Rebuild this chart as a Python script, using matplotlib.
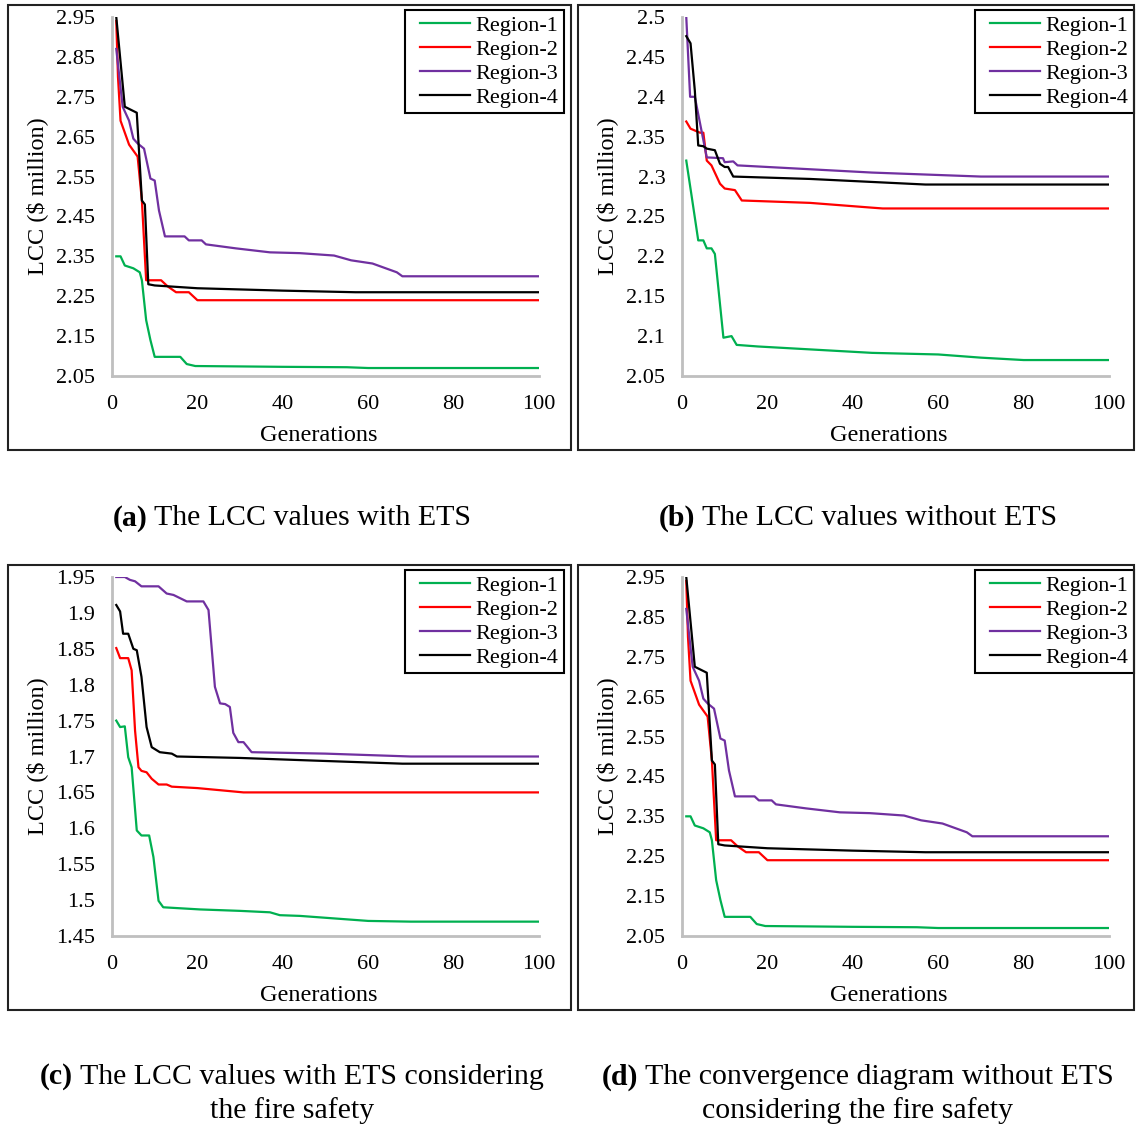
import matplotlib
matplotlib.use("Agg")
import matplotlib.pyplot as plt
from matplotlib.patches import Rectangle
from matplotlib.ticker import FuncFormatter
from matplotlib.legend_handler import HandlerLine2D
from matplotlib.lines import Line2D
import numpy as np

plt.rcParams['font.family'] = ['Liberation Serif', 'DejaVu Serif']

regions = ["Region-1", "Region-2", "Region-3", "Region-4"]
colors = ["#00B050", "#FF0000", "#7030A0", "#000000"]

# ---- Panel (a): with ETS ----
a_r1_gen = [1, 2, 3, 5, 6.5, 7, 8, 9, 10, 16, 17.5, 19.5, 30, 40, 55, 60, 100]
a_r1_val = [2.35, 2.35, 2.327, 2.32, 2.31, 2.29, 2.19, 2.14, 2.098, 2.098, 2.08, 2.075, 2.074, 2.073, 2.072, 2.07, 2.07]
a_r2_gen = [1, 1.4, 2, 4, 6, 7, 8, 11.5, 13, 15, 18, 20, 100]
a_r2_val = [2.94, 2.80, 2.69, 2.63, 2.60, 2.49, 2.29, 2.29, 2.275, 2.26, 2.26, 2.24, 2.24]
a_r3_gen = [1, 2.5, 4, 5, 6, 7.5, 9, 10, 11, 12.4, 17, 18, 21, 22, 29, 37, 44, 52, 56, 61, 66.7, 68, 100]
a_r3_val = [2.87, 2.725, 2.69, 2.645, 2.633, 2.62, 2.545, 2.54, 2.465, 2.40, 2.40, 2.39, 2.39, 2.38, 2.37, 2.36, 2.358, 2.352, 2.34, 2.332, 2.31, 2.30, 2.30]
a_r4_gen = [1, 3, 5.8, 7, 7.7, 8.5, 10, 20, 40, 57, 100]
a_r4_val = [2.95, 2.725, 2.71, 2.49, 2.48, 2.28, 2.277, 2.27, 2.264, 2.26, 2.26]

# ---- Panel (b): without ETS ----
b_r1_gen = [1, 2.3, 3.8, 5, 5.8, 6.9, 7.7, 9.7, 11.6, 12.8, 17.8, 44.5, 60, 70, 80, 100]
b_r1_val = [2.32, 2.274, 2.22, 2.22, 2.21, 2.21, 2.203, 2.098, 2.100, 2.089, 2.087, 2.079, 2.077, 2.073, 2.07, 2.07]
b_r2_gen = [1, 2, 4.2, 5, 5.8, 6.9, 8.9, 10, 12.4, 14, 30, 44.5, 47, 100]
b_r2_val = [2.369, 2.36, 2.355, 2.355, 2.32, 2.314, 2.291, 2.285, 2.283, 2.27, 2.267, 2.261, 2.26, 2.26]
b_r3_gen = [1, 1.9, 3, 5.8, 9.6, 10, 12, 13, 44.5, 70, 100]
b_r3_val = [2.50, 2.40, 2.40, 2.324, 2.323, 2.318, 2.319, 2.314, 2.305, 2.30, 2.30]
b_r4_gen = [1, 2, 3, 3.8, 5, 5.8, 7.7, 8.9, 10, 10.8, 12, 30, 57, 100]
b_r4_val = [2.476, 2.467, 2.408, 2.339, 2.338, 2.335, 2.333, 2.316, 2.312, 2.312, 2.30, 2.297, 2.29, 2.29]

# ---- Panel (c): with ETS considering fire safety ----
c_r1_gen = [1, 1.9, 3, 3.8, 4.6, 5.8, 6.9, 8.7, 9.7, 10.9, 12, 20.6, 30, 37, 39.3, 44, 60, 70, 100]
c_r1_val = [1.75, 1.741, 1.742, 1.699, 1.685, 1.597, 1.59, 1.59, 1.56, 1.499, 1.49, 1.487, 1.485, 1.483, 1.479, 1.478, 1.471, 1.47, 1.47]
c_r2_gen = [1, 1.9, 3.8, 4.6, 5.4, 6.2, 6.9, 8.1, 9.3, 10.9, 12.8, 14, 20, 30.8, 100]
c_r2_val = [1.851, 1.837, 1.837, 1.82, 1.736, 1.685, 1.68, 1.678, 1.669, 1.661, 1.661, 1.658, 1.656, 1.65, 1.65]
c_r3_gen = [1, 3, 4.2, 5.4, 6.9, 10.9, 12.8, 14.4, 17.5, 21.4, 22.6, 24.1, 25.3, 26.5, 27.6, 28.4, 29.6, 30.8, 32.7, 50, 70, 100]
c_r3_val = [1.95, 1.95, 1.946, 1.944, 1.937, 1.937, 1.927, 1.925, 1.916, 1.916, 1.904, 1.797, 1.774, 1.773, 1.769, 1.733, 1.72, 1.72, 1.706, 1.704, 1.70, 1.70]
c_r4_gen = [1, 1.9, 2.6, 3.8, 5, 5.8, 6.9, 8.1, 9.3, 11.2, 14, 15.2, 30, 44, 68, 100]
c_r4_val = [1.911, 1.902, 1.871, 1.871, 1.85, 1.848, 1.811, 1.741, 1.713, 1.706, 1.704, 1.70, 1.698, 1.695, 1.69, 1.69]

# ---- Panel (d): convergence without ETS considering fire safety ----
d_r1_gen, d_r1_val = list(a_r1_gen), list(a_r1_val)
d_r2_gen, d_r2_val = list(a_r2_gen), list(a_r2_val)
d_r3_gen, d_r3_val = list(a_r3_gen), list(a_r3_val)
d_r4_gen, d_r4_val = list(a_r4_gen), list(a_r4_val)

y_ranges = {"a": (2.05, 2.95, 0.1), "b": (2.05, 2.5, 0.05), "c": (1.45, 1.95, 0.05), "d": (2.05, 2.95, 0.1)}
captions = {
    "a": ["(a)", " The LCC values with ETS"],
    "b": ["(b)", " The LCC values without ETS"],
    "c": ["(c)", " The LCC values with ETS considering", "the fire safety"],
    "d": ["(d)", " The convergence diagram without ETS", "considering the fire safety"],
}

W, H = 1136, 1125
fig = plt.figure(figsize=(W / 100, H / 100), dpi=100)

def fx(px):
    return px / W

def fy(py):
    return 1 - py / H

panels = {
    "a": ([a_r1_gen, a_r2_gen, a_r3_gen, a_r4_gen], [a_r1_val, a_r2_val, a_r3_val, a_r4_val], 112, 17, 376, (8, 5, 571, 450), 292, 518),
    "b": ([b_r1_gen, b_r2_gen, b_r3_gen, b_r4_gen], [b_r1_val, b_r2_val, b_r3_val, b_r4_val], 682, 17, 376, (578, 5, 1134, 450), 858, 518),
    "c": ([c_r1_gen, c_r2_gen, c_r3_gen, c_r4_gen], [c_r1_val, c_r2_val, c_r3_val, c_r4_val], 112, 577, 936, (8, 565, 571, 1010), 292, 1077),
    "d": ([d_r1_gen, d_r2_gen, d_r3_gen, d_r4_gen], [d_r1_val, d_r2_val, d_r3_val, d_r4_val], 682, 577, 936, (578, 565, 1134, 1010), 858, 1077),
}

fmt = FuncFormatter(lambda v, p: ("%.2f" % v).rstrip("0").rstrip("."))
CAP_FS = 21.5

for key, (gens, vals, left, top, bottom, box, cx, cy) in panels.items():
    ax = fig.add_axes([fx(left), fy(bottom), fx(427), (bottom - top) / H])
    for g, v, c, lab in zip(gens, vals, colors, regions):
        ax.plot(g, v, color=c, lw=1.6, label=lab, solid_joinstyle="round")
    lo, hi, st = y_ranges[key]
    ax.set_ylim(lo, hi)
    ax.set_xlim(0, 100)
    ax.set_yticks(np.round(np.arange(lo, hi + st / 2, st), 2))
    ax.set_xticks([0, 20, 40, 60, 80, 100])
    ax.yaxis.set_major_formatter(fmt)
    ax.tick_params(length=0, labelsize=16)
    ax.tick_params(axis="x", pad=13.5)
    ax.tick_params(axis="y", pad=12)
    for s in ["top", "right"]:
        ax.spines[s].set_visible(False)
    for s in ["left", "bottom"]:
        ax.spines[s].set_color("#BFBFBF")
        ax.spines[s].set_linewidth(2.0)
    ax.set_xlabel("Generations", fontsize=17.5, labelpad=8)
    ax.xaxis.label.set_x(0.484)
    ax.set_ylabel("LCC ($ million)", fontsize=17.5, labelpad=6)
    leg = ax.legend(loc="upper right", bbox_to_anchor=(1.0585, 1.0195), borderaxespad=0,
                    fontsize=16, handlelength=2.68, handletextpad=0.23, labelspacing=0.15,
                    fancybox=False, edgecolor="black", framealpha=1, borderpad=0.25,
                    handler_map={Line2D: HandlerLine2D(xpad=0.43)})
    leg.get_frame().set_linewidth(1.5)
    x0, y0, x1, y1 = box
    fig.add_artist(Rectangle((fx(x0), fy(y1)), fx(x1 - x0), (y1 - y0) / H,
                             transform=fig.transFigure, fill=False, edgecolor="#222222", lw=1.5))
    cap = captions[key]
    t1 = fig.text(0, 0, cap[0], fontsize=CAP_FS, fontweight="bold")
    t2 = fig.text(0, 0, cap[1], fontsize=CAP_FS)
    fig.canvas.draw()
    r = fig.canvas.get_renderer()
    w1 = t1.get_window_extent(r).width
    w2 = t2.get_window_extent(r).width
    start = cx - (w1 + w2) / 2
    t1.set_position((fx(start), fy(cy)))
    t1.set_va("center")
    t2.set_position((fx(start + w1), fy(cy)))
    t2.set_va("center")
    if len(cap) > 2:
        fig.text(fx(cx), fy(cy + 34), cap[2], fontsize=CAP_FS, ha="center", va="center")

fig.savefig("out.png", dpi=100)
